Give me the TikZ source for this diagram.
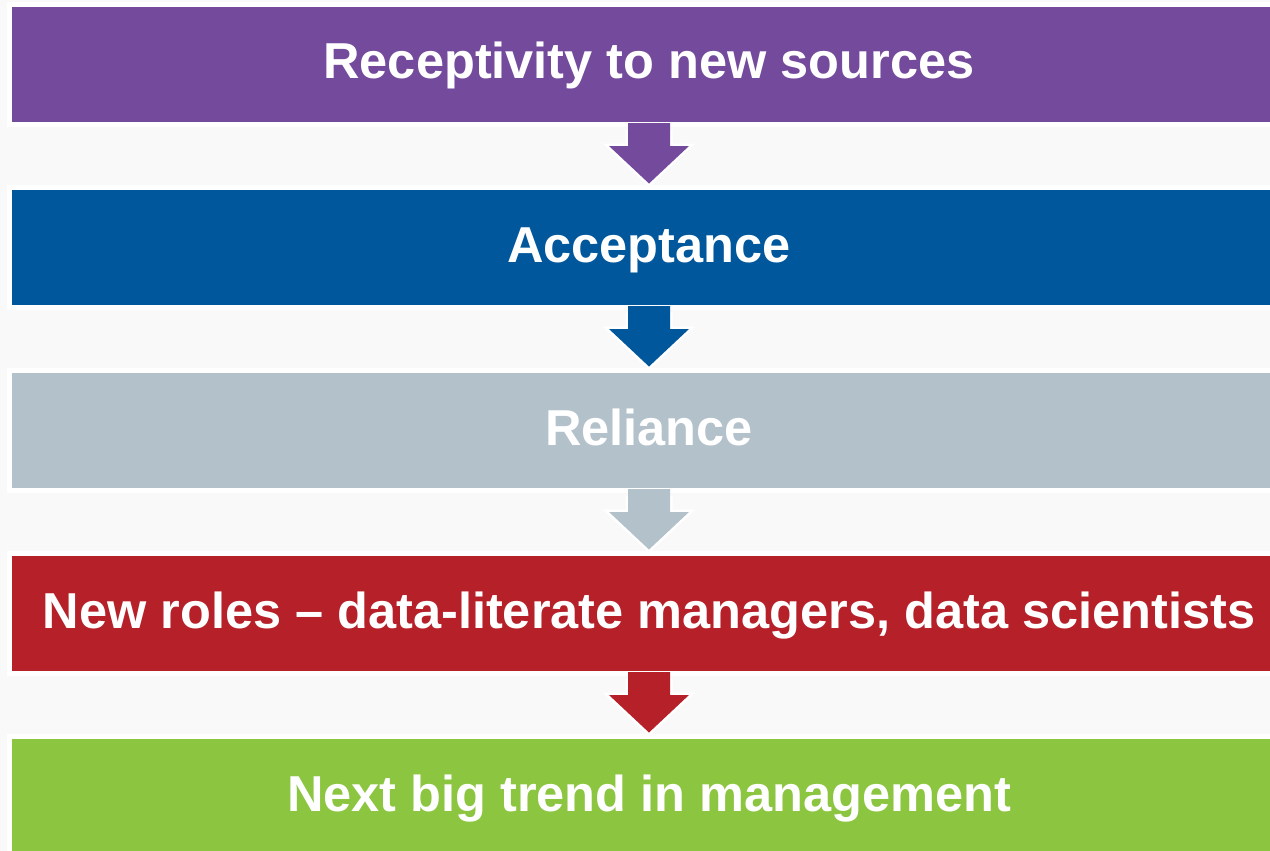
\documentclass[tikz,border=0pt]{standalone}
\usepackage{fontspec}
\setmainfont{Liberation Sans}
\usetikzlibrary{calc}
\definecolor{bg}{HTML}{F9F9F9}
\definecolor{cpurple}{HTML}{744A9C}
\definecolor{cblue}{HTML}{00579C}
\definecolor{cgray}{HTML}{B3C1CA}
\definecolor{cred}{HTML}{B62029}
\definecolor{cgreen}{HTML}{8CC540}
\tikzset{
  stepbox/.style={rectangle, minimum width=1279pt, minimum height=120pt, inner sep=0pt,
    text height=36pt, text depth=7pt,
    draw=white, line width=5pt, text=white, font=\fontsize{50.5}{60}\selectfont\bfseries},
}
\newcommand{\flowarrow}[3]{%
  % #1 upper node, #2 lower node, #3 colour
  \draw[white, line width=5pt, line join=miter]
    ($(#1.south)+(-21pt,-2.5pt)$) -- ($(#1.south)+(-21pt,-19pt)$) -- ($(#1.south)+(-40pt,-19pt)$)
    -- ($(#2.north)+(0,1.5pt)$) -- ($(#1.south)+(40pt,-19pt)$) -- ($(#1.south)+(21pt,-19pt)$)
    -- ($(#1.south)+(21pt,-2.5pt)$);
  \fill[#3]
    ($(#1.south)+(-21pt,4pt)$) -- ($(#1.south)+(-21pt,-19pt)$) -- ($(#1.south)+(-40pt,-19pt)$)
    -- ($(#2.north)+(0,1.5pt)$) -- ($(#1.south)+(40pt,-19pt)$) -- ($(#1.south)+(21pt,-19pt)$)
    -- ($(#1.south)+(21pt,4pt)$) -- cycle;
}
\begin{document}
\begin{tikzpicture}[x=1pt,y=-1pt]
\useasboundingbox (0,0) rectangle (1270,851);
\clip (0,0) rectangle (1270,851);
\fill[bg] (0,0) rectangle (1270,851);
\node[stepbox, fill=cpurple] (b1) at (649,64.5) {Receptivity to new sources};
\node[stepbox, fill=cblue]   (b2) at (649,247.5) {Acceptance};
\node[stepbox, fill=cgray]   (b3) at (649,430.5) {Reliance};
\node[stepbox, fill=cred]    (b4) at (649,613.5) {New roles -- data-literate managers, data scientists};
\node[stepbox, fill=cgreen]  (b5) at (649,796.5) {Next big trend in management};
\flowarrow{b1}{b2}{cpurple}
\flowarrow{b2}{b3}{cblue}
\flowarrow{b3}{b4}{cgray}
\flowarrow{b4}{b5}{cred}
\end{tikzpicture}
\end{document}
